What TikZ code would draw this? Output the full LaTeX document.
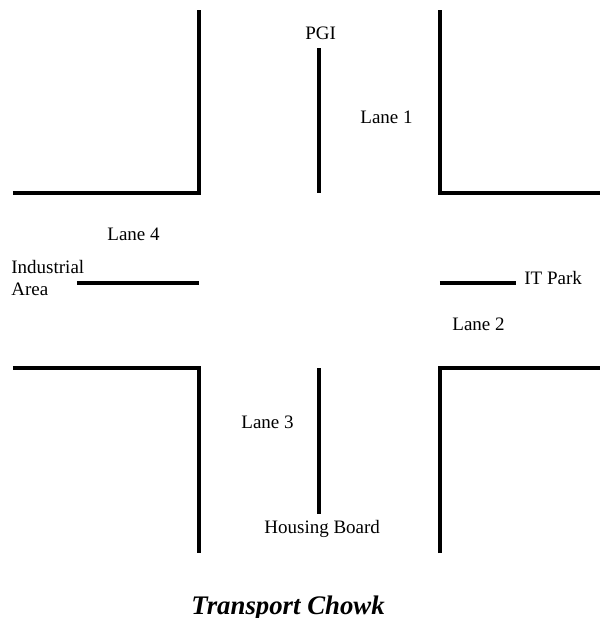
\documentclass[tikz,border=0pt]{standalone}
\usepackage{fontspec}
\setmainfont{Liberation Serif}
\begin{document}
\begin{tikzpicture}[x=0.5pt,y=-0.5pt,
  wall/.style={line width=2.1pt, line cap=butt, line join=miter},
  lbl/.style={inner sep=0pt, anchor=base west, font=\fontsize{9.5}{11}\selectfont},
  titlelbl/.style={inner sep=0pt, anchor=base west, font=\fontsize{13.4}{15}\selectfont\bfseries\itshape}]
\useasboundingbox (0,0) rectangle (600,618);

% corner kerbs of the crossing
\coordinate (nwA) at (13,193);  \coordinate (nwB) at (199,193);  \coordinate (nwC) at (199,10);
\coordinate (neA) at (440,10);  \coordinate (neB) at (440,193);  \coordinate (neC) at (600,193);
\coordinate (swA) at (13,368);  \coordinate (swB) at (199,368);  \coordinate (swC) at (199,553);
\coordinate (seA) at (440,553); \coordinate (seB) at (440,368);  \coordinate (seC) at (600,368);
\draw[wall] (nwA) -- (nwB) -- (nwC);
\draw[wall] (neA) -- (neB) -- (neC);
\draw[wall] (swA) -- (swB) -- (swC);
\draw[wall] (seA) -- (seB) -- (seC);

% lane dividers
\coordinate (nT) at (319,48);  \coordinate (nB) at (319,193);
\coordinate (sT) at (319,368); \coordinate (sB) at (319,514);
\coordinate (wL) at (77,283);  \coordinate (wR) at (199,283);
\coordinate (eL) at (440,283); \coordinate (eR) at (516,283);
\draw[wall] (nT) -- (nB);
\draw[wall] (sT) -- (sB);
\draw[wall] (wL) -- (wR);
\draw[wall] (eL) -- (eR);

% labels
\node[lbl] (pgi) at (305,39) {PGI};
\node[lbl] (lane1) at (360,123) {Lane 1};
\node[lbl] (lane4) at (107,240) {Lane 4};
\node[lbl] (ind) at (11,273) {Industrial};
\node[lbl] (area) at (11,295) {Area};
\node[lbl] (itpark) at (524,284) {IT Park};
\node[lbl] (lane2) at (452,330) {Lane 2};
\node[lbl] (lane3) at (241,428) {Lane 3};
\node[lbl] (hb) at (264,533) {Housing Board};
\node[titlelbl] (title) at (191,614) {Transport Chowk};
\end{tikzpicture}
\end{document}
